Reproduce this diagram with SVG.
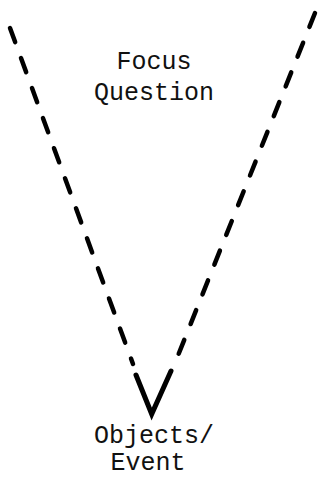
<svg xmlns="http://www.w3.org/2000/svg" width="320" height="478" viewBox="0 0 320 478">
<style>
.lbl{font-family:"Liberation Mono","DejaVu Sans Mono",monospace;font-size:25px;fill:#111;text-anchor:middle}
.dash{fill:none;stroke:#000;stroke-width:4.5;stroke-linecap:round;stroke-dasharray:15 17}
.solid{fill:none;stroke:#000;stroke-width:5;stroke-linecap:round;stroke-linejoin:miter}
</style>
<rect width="320" height="478" fill="#fff"/>
<g id="connectors">
<path class="dash" d="M10,28 L133,364"/>
<path class="dash" d="M315,13 L175,363"/>
<path class="solid" d="M136,375 L151.7,414 L171,371"/>
</g>
<g id="focus-question">
<text class="lbl" x="154" y="69">Focus</text>
<text class="lbl" x="154" y="100">Question</text>
</g>
<g id="objects-event">
<text class="lbl" x="154" y="443">Objects/</text>
<text class="lbl" x="148" y="470">Event</text>
</g>
</svg>
